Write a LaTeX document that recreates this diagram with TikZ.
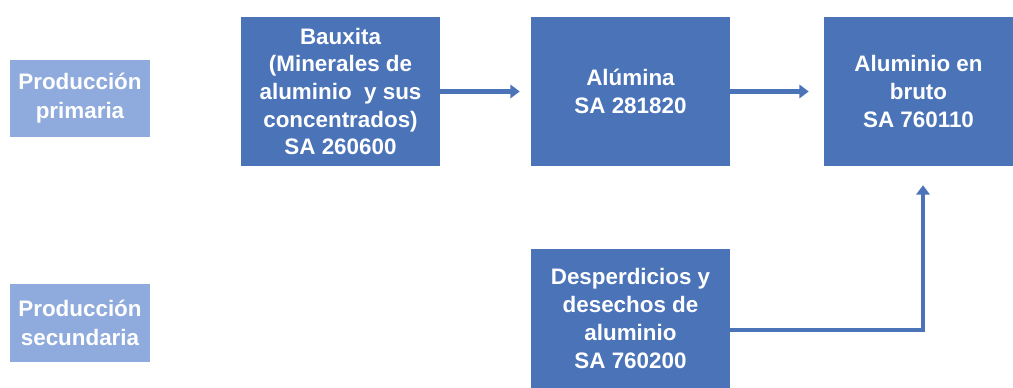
\documentclass[tikz,border=0pt]{standalone}
\usepackage{fontspec}
\setmainfont{Liberation Sans}
\usepackage{tikz}
\usetikzlibrary{positioning, arrows.meta}
\usepackage{xcolor}
\definecolor{darkblue}{HTML}{4A73B8}
\definecolor{lightblue}{HTML}{8FAADC}

\begin{document}
\begin{tikzpicture}[x=0.75pt, y=-0.75pt, every node/.style={font=\bfseries\fontsize{16.8}{20.8}\selectfont}]
  \tikzstyle{stage} = [rectangle, minimum width=105pt, minimum height=58pt, inner sep=0pt, text centered, align=center, fill=lightblue, text=white, font=\bfseries\fontsize{16.8}{21.7}\selectfont]
  \tikzstyle{product} = [rectangle, minimum width=149.25pt, minimum height=111.75pt, inner sep=0pt, text centered, align=center, fill=darkblue, text=white]
  \tikzstyle{arrow} = [line width=3.2pt, draw=darkblue, -{Triangle[length=7pt, width=10pt]}]

  \useasboundingbox (0,0) rectangle (1013,388);

  \node (prim) [stage] at (80,98.5) {Producción\\primaria};
  \node (sec) [stage, minimum height=58.5pt] at (80,323) {Producción\\secundaria};

  \node (bauxita) [product] at (340.5,91.5) {Bauxita\\(Minerales de\\aluminio\ \ y sus\\concentrados)\\SA 260600};
  \node (alumina) [product] at (630.5,91.5) {Alúmina\\SA 281820};
  \node (bruto) [product, minimum width=141.75pt] at (918.5,91.5) {Aluminio en\\bruto\\SA 760110};
  \node (desp) [product, minimum height=104.25pt] at (630.5,318.5) {Desperdicios y\\desechos de\\aluminio\\SA 760200};

  \draw [arrow, shorten >=8.25pt] (bauxita) -- (alumina);
  \draw [arrow, shorten >=11.25pt] (alumina) -- (bruto);
  \draw [arrow, shorten >=14.25pt] (desp.east |- 0,330) -| (bruto.south -| 923,0);
\end{tikzpicture}
\end{document}
